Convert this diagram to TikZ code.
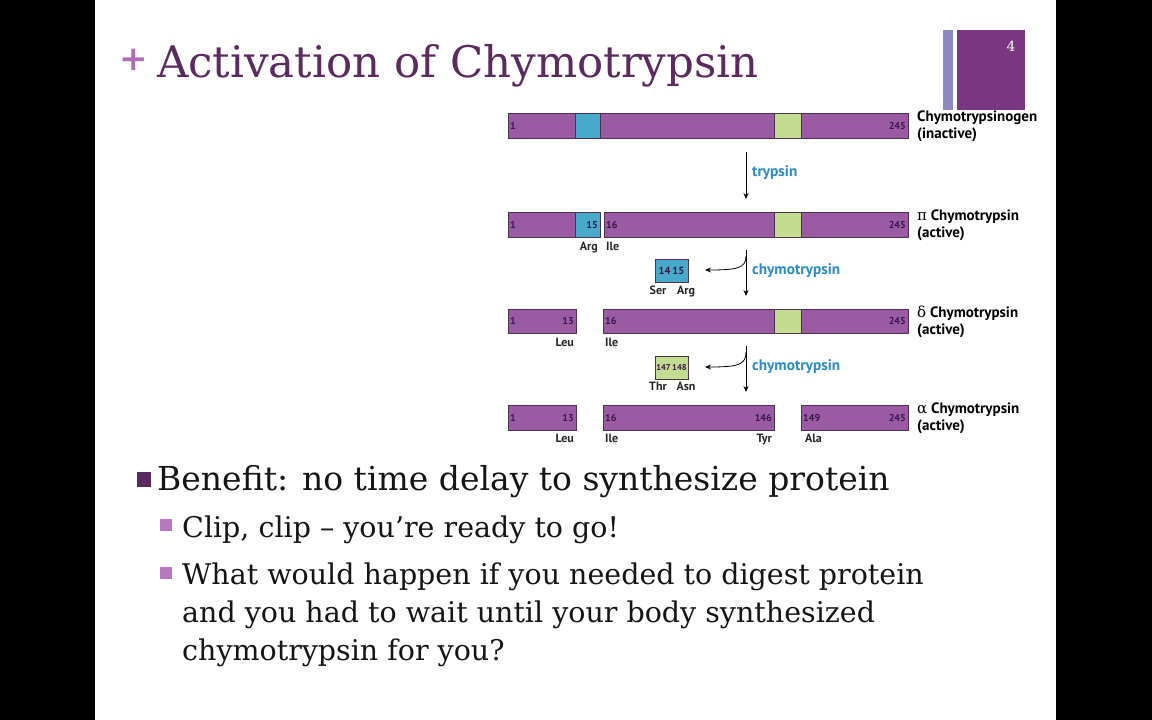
\documentclass[tikz,border=0pt]{standalone}
\usepackage{fontspec}
\setmainfont{DejaVu Serif}
\newfontfamily\dfont{PT Sans}
\newfontfamily\gfont{DejaVu Serif}
\usepackage{tikz}
\usetikzlibrary{arrows.meta,positioning}

\definecolor{titlepurple}{HTML}{5B2A5E}
\definecolor{pluspurple}{HTML}{B06AB6}
\definecolor{bulletdark}{HTML}{5A2A5E}
\definecolor{bulletlight}{HTML}{B878C2}
\definecolor{numbox}{HTML}{7A3682}
\definecolor{lavender}{HTML}{8C88C2}
\definecolor{segpurple}{HTML}{9A5AA4}
\definecolor{segblue}{HTML}{47AACB}
\definecolor{seggreen}{HTML}{C4DC8F}
\definecolor{segline}{HTML}{4C3352}
\definecolor{enzblue}{HTML}{2A8CC4}
\definecolor{numtext}{HTML}{3A1848}
\definecolor{bodytext}{HTML}{151515}

\tikzset{
  seg/.style={fill=#1,draw=segline,line width=0.8pt},
  num/.style={font=\dfont\bfseries\fontsize{10}{10}\selectfont,text=numtext,inner sep=0pt},
  res/.style={font=\dfont\bfseries\fontsize{12}{12}\selectfont,text=black!85,inner sep=0pt},
  formname/.style={font=\dfont\bfseries\fontsize{15}{17}\selectfont,align=left,anchor=north west,inner sep=0pt},
  enz/.style={font=\dfont\bfseries\fontsize{15.3}{15.3}\selectfont,text=enzblue,anchor=west,inner sep=0pt},
  arr/.style={-{Stealth[length=6pt,width=5pt]},line width=0.8pt},
  piece/.style={draw=segline,line width=0.8pt,minimum width=33pt,minimum height=23pt,inner sep=0pt,
    font=\dfont\bfseries\fontsize{10.5}{10.5}\selectfont,text=numtext},
  body/.style={text=bodytext,anchor=base west,inner sep=0pt}
}

\begin{document}
\begin{tikzpicture}[x=1pt,y=-1pt]
\useasboundingbox (0,0) rectangle (1152,720);

%slide
\fill[black] (0,0) rectangle (1152,720);
\fill[white] (95,0) rectangle (1056,720);

%title
\node[text=pluspurple,font=\fontsize{34}{34}\selectfont\bfseries,anchor=base,inner sep=0pt] (plus) at (134,70) {+};
\node[text=titlepurple,font=\fontsize{43.5}{43.5}\selectfont,anchor=base west,inner sep=0pt] (title) at (157,77) {Activation of Chymotrypsin};

%slide number
\fill[lavender] (943,30) rectangle (953,110);
\fill[numbox] (957,30) rectangle (1025,110);
\node[text=white,font=\fontsize{14}{14}\selectfont,inner sep=0pt] (pgno) at (1011,46) {4};

%chymotrypsinogen
\filldraw[seg=segpurple] (508,113) rectangle (575,138);
\filldraw[seg=segblue] (575,113) rectangle (600,138);
\filldraw[seg=segpurple] (600,113) rectangle (774,138);
\filldraw[seg=seggreen] (774,113) rectangle (801,138);
\filldraw[seg=segpurple] (801,113) rectangle (908,138);
\node[num,anchor=west] (a1) at (510,126) {1};
\node[num,anchor=east] (a245) at (906,126) {245};
\node[formname] (n1) at (917,111) {Chymotrypsinogen\\(inactive)};

%trypsin
\coordinate (t1) at (746,152);
\coordinate (b1) at (746,199);
\draw[arr] (t1) -- (b1);
\node[enz] (e1) at (752,173) {trypsin};

%pi
\filldraw[seg=segpurple] (508,212) rectangle (575,237);
\filldraw[seg=segblue] (575,212) rectangle (600,237);
\filldraw[seg=segpurple] (604,212) rectangle (774,237);
\filldraw[seg=seggreen] (774,212) rectangle (801,237);
\filldraw[seg=segpurple] (801,212) rectangle (908,237);
\node[num,anchor=west] (b1n) at (510,225) {1};
\node[num,anchor=east] (b15) at (598,225) {15};
\node[num,anchor=west] (b16) at (606,225) {16};
\node[num,anchor=east] (b245) at (906,225) {245};
\node[res,anchor=base east] (bArg) at (598,250) {Arg};
\node[res,anchor=base west] (bIle) at (606,250) {Ile};
\node[formname] (n2) at (917,210) {{\gfont\mdseries π} Chymotrypsin\\(active)};

%first chymotrypsin cut
\coordinate (t2) at (746,250);
\coordinate (b2) at (746,296);
\coordinate (c2) at (746,256);
\coordinate (d2) at (705,270);
\draw[arr] (t2) -- (b2);
\draw[arr] (c2) .. controls (746,268) and (738,270) .. (d2);
\node[piece,fill=segblue] (p2) at (671.5,270.5) {14\,15};
\node[res,anchor=base] (pSer) at (658,294) {Ser};
\node[res,anchor=base] (pArg) at (686,294) {Arg};
\node[enz] (e2) at (752,271) {chymotrypsin};

%delta
\filldraw[seg=segpurple] (508,309) rectangle (576,333);
\filldraw[seg=segpurple] (603,309) rectangle (774,333);
\filldraw[seg=seggreen] (774,309) rectangle (801,333);
\filldraw[seg=segpurple] (801,309) rectangle (908,333);
\node[num,anchor=west] (c1) at (510,321) {1};
\node[num,anchor=east] (c13) at (574,321) {13};
\node[num,anchor=west] (c16) at (605,321) {16};
\node[num,anchor=east] (c245) at (906,321) {245};
\node[res,anchor=base east] (cLeu) at (574,346) {Leu};
\node[res,anchor=base west] (cIle) at (605,346) {Ile};
\node[formname] (n3) at (917,306) {{\gfont\mdseries δ} Chymotrypsin\\(active)};

%second chymotrypsin cut
\coordinate (t3) at (746,346);
\coordinate (b3) at (746,392);
\coordinate (c3) at (746,352);
\coordinate (d3) at (705,367);
\draw[arr] (t3) -- (b3);
\draw[arr] (c3) .. controls (746,365) and (738,367) .. (d3);
\node[piece,fill=seggreen,font=\dfont\bfseries\fontsize{8.5}{8.5}\selectfont] (p3) at (671.5,367.5) {147\,148};
\node[res,anchor=base] (pThr) at (658,390) {Thr};
\node[res,anchor=base] (pAsn) at (686,390) {Asn};
\node[enz] (e3) at (752,367) {chymotrypsin};

%alpha
\filldraw[seg=segpurple] (508,405) rectangle (576,430);
\filldraw[seg=segpurple] (603,405) rectangle (774,430);
\filldraw[seg=segpurple] (801,405) rectangle (908,430);
\node[num,anchor=west] (d1) at (510,418) {1};
\node[num,anchor=east] (d13) at (574,418) {13};
\node[num,anchor=west] (d16) at (605,418) {16};
\node[num,anchor=east] (d146) at (772,418) {146};
\node[num,anchor=west] (d149) at (803,418) {149};
\node[num,anchor=east] (d245) at (906,418) {245};
\node[res,anchor=base east] (dLeu) at (574,442) {Leu};
\node[res,anchor=base west] (dIle) at (605,442) {Ile};
\node[res,anchor=base east] (dTyr) at (772,442) {Tyr};
\node[res,anchor=base west] (dAla) at (805,442) {Ala};
\node[formname] (n4) at (917,403) {{\gfont\mdseries α} Chymotrypsin\\(active)};

%bullets
\fill[bulletdark] (137,472) rectangle (151,487);
\node[body,font=\fontsize{33}{33}\selectfont] (l1) at (157,490) {Benefit: no time delay to synthesize protein};
\fill[bulletlight] (160,519) rectangle (172,531);
\node[body,font=\fontsize{28.5}{28.5}\selectfont] (l2) at (182,537) {Clip, clip -- you’re ready to go!};
\fill[bulletlight] (160,567) rectangle (172,579);
\node[body,font=\fontsize{28.5}{28.5}\selectfont] (l3) at (182,584) {What would happen if you needed to digest protein};
\node[body,font=\fontsize{28.5}{28.5}\selectfont] (l4) at (182,622) {and you had to wait until your body synthesized};
\node[body,font=\fontsize{28.5}{28.5}\selectfont] (l5) at (182,660) {chymotrypsin for you?};

\end{tikzpicture}
\end{document}
